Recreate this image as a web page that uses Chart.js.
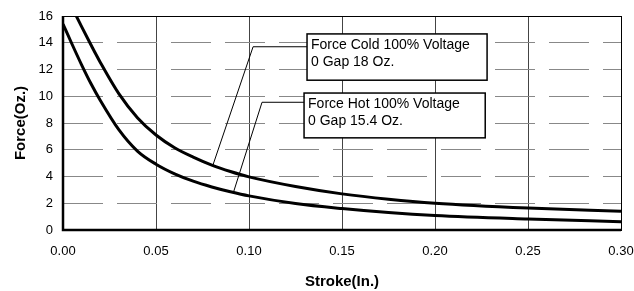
<!DOCTYPE html>
<html>
<head>
<meta charset="utf-8">
<script src="https://cdn.jsdelivr.net/npm/chart.js@4/dist/chart.umd.min.js"></script>
<style>
  html, body { margin: 0; padding: 0; background: #fff; }
  #wrap { width: 634px; height: 291px; }
</style>
</head>
<body>
<div id="wrap"><canvas id="myChart" width="634" height="291"></canvas></div>
<script>
// stroke positions (in.) and force readings (oz.)
const strokeIn = [0, 0.005, 0.01, 0.015, 0.02, 0.03, 0.04, 0.05, 0.06, 0.07, 0.08, 0.09, 0.10, 0.125, 0.15, 0.175, 0.20, 0.25, 0.30];
const forceCold = [18, 16.6, 15.2, 13.85, 12.55, 10.2, 8.4, 7.1, 6.15, 5.45, 4.85, 4.37, 3.97, 3.25, 2.7, 2.3, 2.0, 1.64, 1.4];
const forceHot = [15.4, 13.85, 12.35, 10.95, 9.7, 7.5, 5.9, 4.92, 4.2, 3.65, 3.22, 2.86, 2.55, 1.98, 1.6, 1.3, 1.08, 0.82, 0.62];

const xTicks = [0, 0.05, 0.10, 0.15, 0.20, 0.25, 0.30];
const yTicks = [0, 2, 4, 6, 8, 10, 12, 14, 16];

// callout leaders (data coords) and label boxes
const coldLeader = [{ x: 0.0806, y: 4.85 }, { x: 0.1022, y: 13.7 }, { x: 0.1312, y: 13.7 }];
const hotLeader = [{ x: 0.0916, y: 2.8 }, { x: 0.107, y: 9.55 }, { x: 0.1296, y: 9.55 }];
const callouts = [
    { lines: ["Force Cold 100% Voltage", "0 Gap 18 Oz."], x0: 0.1312, x1: 0.228, yTop: 14.66, yBot: 11.2 },
    { lines: ["Force Hot 100% Voltage", "0 Gap 15.4 Oz."], x0: 0.1296, x1: 0.227, yTop: 10.24, yBot: 6.89 }
];

const FONT = "'Liberation Sans', Arial, sans-serif";
Chart.defaults.font.family = FONT;
Chart.defaults.color = "#000";

const toPts = (ys) => strokeIn.map((x, i) => ({ x: x, y: ys[i] }));

const framePlugin = {
    id: "frame",
    afterDatasetsDraw(chart) {
        const { ctx, chartArea: a, scales } = chart;
        ctx.save();
        ctx.strokeStyle = "#000";
        ctx.lineWidth = 1;
        ctx.strokeRect(a.left + 0.5, a.top + 0.5, a.right - a.left, a.bottom - a.top);
        ctx.lineWidth = 2.5;
        ctx.beginPath();
        ctx.moveTo(a.left, a.top);
        ctx.lineTo(a.left, a.bottom);
        ctx.lineTo(a.right, a.bottom);
        ctx.stroke();

        // label boxes
        ctx.font = "14px " + FONT;
        ctx.textBaseline = "middle";
        callouts.forEach(c => {
            const l = scales.x.getPixelForValue(c.x0);
            const r = scales.x.getPixelForValue(c.x1);
            const t = scales.y.getPixelForValue(c.yTop);
            const b = scales.y.getPixelForValue(c.yBot);
            ctx.fillStyle = "#fff";
            ctx.fillRect(l, t, r - l, b - t);
            ctx.lineWidth = 1.5;
            ctx.strokeStyle = "#000";
            ctx.strokeRect(l, t, r - l, b - t);
            ctx.fillStyle = "#000";
            ctx.fillText(c.lines[0], l + 4, t + 11);
            ctx.fillText(c.lines[1], l + 4, t + 28);
        });
        ctx.restore();
    }
};

new Chart("myChart", {
    type: "scatter",
    data: {
        datasets: [
            { label: "Force Cold", data: toPts(forceCold), showLine: true, borderColor: "#000", borderWidth: 3, pointRadius: 0, cubicInterpolationMode: "monotone" },
            { label: "Force Hot", data: toPts(forceHot), showLine: true, borderColor: "#000", borderWidth: 3, pointRadius: 0, cubicInterpolationMode: "monotone" },
            { label: "cold leader", data: coldLeader, showLine: true, borderColor: "#000", borderWidth: 1, pointRadius: 0, tension: 0 },
            { label: "hot leader", data: hotLeader, showLine: true, borderColor: "#000", borderWidth: 1, pointRadius: 0, tension: 0 }
        ]
    },
    options: {
        responsive: false,
        animation: false,
        layout: { padding: { top: 16, right: 0, left: 0, bottom: 0 } },
        plugins: { legend: { display: false }, tooltip: { enabled: false } },
        scales: {
            x: {
                type: "linear", min: 0, max: 0.3,
                afterBuildTicks: (s) => { s.ticks = xTicks.map(v => ({ value: v })); },
                afterFit: (s) => { s.height = 61; s.paddingLeft = 0; s.paddingRight = 13; },
                ticks: { padding: 14, font: { size: 13 }, callback: (v) => Number(v).toFixed(2) },
                grid: { color: "#444", lineWidth: 1, drawTicks: false },
                border: { display: false },
                title: { display: true, text: "Stroke(In.)", font: { size: 15, weight: "bold" }, padding: { top: 12, bottom: 0 } }
            },
            y: {
                min: 0, max: 16,
                afterBuildTicks: (s) => { s.ticks = yTicks.map(v => ({ value: v })); },
                afterFit: (s) => { s.width = 63; s.paddingTop = 0; s.paddingBottom = 0; },
                ticks: { padding: 10, font: { size: 13 } },
                grid: { color: "#888", lineWidth: 1, drawTicks: false },
                border: { display: false, dash: [40, 14] },
                title: { display: true, text: "Force(Oz.)", font: { size: 15, weight: "bold" }, padding: { top: 12, bottom: 0 } }
            }
        }
    },
    plugins: [framePlugin]
});
</script>
</body>
</html>
